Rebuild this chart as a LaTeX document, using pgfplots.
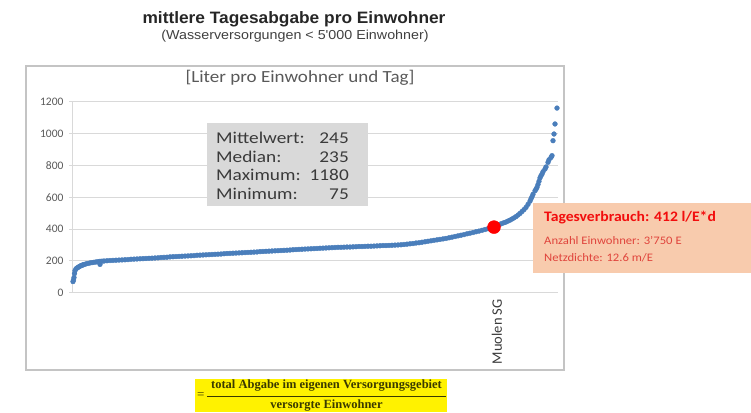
\documentclass[border=0pt]{standalone}
\usepackage{pgfplots}
\pgfplotsset{compat=1.18}
\usepackage{graphicx}
\usepackage{fontspec}
\setmainfont{Carlito}
\newfontfamily\arialfont{Liberation Sans}
\newfontfamily\timesfont{Liberation Serif}
\definecolor{ptblue}{HTML}{4A7EBB}
\definecolor{gridgray}{HTML}{D9D9D9}
\definecolor{framegray}{HTML}{C4C4C4}
\definecolor{statgray}{HTML}{D9D9D9}
\definecolor{peach}{HTML}{F8CBAD}
\definecolor{txtgray}{HTML}{595959}
\definecolor{darktxt}{HTML}{3A3A3A}
\definecolor{redA}{HTML}{F20D0D}
\definecolor{redB}{HTML}{E0443C}
\definecolor{olive}{HTML}{3A3A00}
\newcommand{\hs}[2]{\scalebox{#1}[1]{#2}}
\begin{document}
\begin{tikzpicture}[x=1pt,y=1pt]
\path[use as bounding box] (0,0) rectangle (751,412);
% frame
\draw[framegray, line width=1.2pt] (26,346) rectangle (564,42);
% titles
\node[font=\arialfont\bfseries\fontsize{16.5}{18}\selectfont, text=black!85] at (294,393) {\hs{1.05}{mittlere Tagesabgabe pro Einwohner}};
\node[font=\arialfont\fontsize{13}{14}\selectfont, text=black!75] at (295,375.5) {\hs{1.1}{(Wasserversorgungen < 5'000 Einwohner)}};
\node[font=\fontsize{17}{19}\selectfont, text=txtgray] at (300,334) {\hs{1.12}{[Liter pro Einwohner und Tag]}};
\begin{axis}[
  at={(72pt,119.3pt)}, anchor=south west,
  scale only axis, width=486pt, height=191pt,
  xmin=72, xmax=558, ymin=0, ymax=1200,
  clip=false,
  axis y line*=left, axis x line*=bottom,
  axis line style={draw=gridgray, line width=1pt},
  ytick={0,200,...,1200},
  ymajorgrids, grid style={gridgray, line width=1pt},
  tick align=outside, major tick length=3pt,
  ytick style={draw=gridgray, line width=1pt},
  xtick={494}, xticklabels={Muolen SG},
  xtick style={draw=none},
  /pgf/number format/assume math mode=true,
  /pgf/number format/1000 sep={},
  yticklabel style={font=\fontsize{11.5}{13}\selectfont, text=txtgray, xshift=-2pt},
  xticklabel style={rotate=90, anchor=east, font=\fontsize{14.5}{16}\selectfont, text=darktxt, yshift=-3pt},
]
\addplot[only marks, mark=*, mark size=2.4pt, color=ptblue, mark options={draw=ptblue, fill=ptblue}] coordinates {
(73,70) (73.5,80) (74,95) (74.5,120) (75,138) (76,150) (77,155) (78,159) (79,163) (80,167)
(81,170) (82,172) (83,175) (84,177) (86,181) (88,184) (90,187) (92,189) (94,191) (96,193)
(98,195) (100,178) (100,197) (102,198) (104,199)
(107,201) (110,202) (113,203) (116,204) (119,205) (122,206) (125,207) (128,208) (131,210) (134,211) (137,212) (140,213)
(143,214) (146,215) (149,216) (152,217) (155,218) (158,219) (161,221) (164,222) (167,223) (170,225) (173,226)
(176,227) (179,228) (182,229) (185,230) (188,231) (191,232) (194,233) (197,235) (200,236) (203,237) (206,238)
(209,239) (212,240) (215,241) (218,242) (221,243) (224,245) (227,246) (230,247) (233,248) (236,249) (239,250)
(242,251) (245,252) (248,253) (251,254) (254,255) (257,256) (260,258) (263,259) (266,260) (269,261) (272,262)
(275,263) (278,264) (281,265) (284,266) (287,267) (290,268) (293,270) (296,271) (299,272) (302,273) (305,274)
(308,275) (311,276) (314,277) (317,278) (320,279) (323,280) (326,281) (329,282) (332,283) (335,284) (338,285)
(341,285) (344,286) (347,287) (350,287) (353,288) (356,289) (359,290) (362,290) (365,291) (368,292)
(371,292) (374,293) (377,294) (380,295) (383,296) (386,296) (389,297) (392,298) (395,299) (398,300)
(401,301) (404,303) (407,305) (410,307) (413,309) (416,312) (419,314)
(422,317) (425,320) (428,323) (431,326) (434,329)
(437,332) (440,335) (443,338) (446,341) (449,345)
(452,349) (455,353) (458,357) (461,361) (464,365) (467,370)
(470,374) (473,378) (476,383) (479,387) (482,392)
(485,397) (488,402) (491,407)
(496,418) (498,424) (500,430) (502,435) (504,440) (506,444) (508,450) (510,456) (512,463) (514,470)
(516,478) (518,488) (520,498) (522,510) (524,522) (526,536) (528,555) (530,575) (531,590) (532,603)
(533,618) (535,640) (536,650) (537,662) (538,680) (539,700) (540,721) (541,735) (542,745) (543,760)
(545,777) (546,790) (548,819) (549,835) (551,850) (552,861) (553,955) (554,997) (555,1060) (557,1160)
};
\addplot[only marks, mark=*, mark size=6.5pt, color=red, mark options={draw=red, fill=red}] coordinates {(494,412)};
\end{axis}
% stats box
\fill[statgray] (207,289) rectangle (368,206);
\begin{scope}[every node/.style={font=\fontsize{16.5}{18}\selectfont, text=darktxt, inner sep=0pt}]
\node[anchor=west] at (216,274) {\hs{1.17}{Mittelwert:}};
\node[anchor=west] at (216,255) {\hs{1.17}{Median:}};
\node[anchor=west] at (216,237) {\hs{1.17}{Maximum:}};
\node[anchor=west] at (216,218) {\hs{1.17}{Minimum:}};
\node[anchor=east] at (349,274) {\hs{1.17}{245}};
\node[anchor=east] at (349,255) {\hs{1.17}{235}};
\node[anchor=east] at (349,237) {\hs{1.17}{1180}};
\node[anchor=east] at (349,218) {\hs{1.17}{75}};
\end{scope}
% info box
\fill[peach] (533,209) rectangle (751,139);
\node[anchor=west, inner sep=0pt, font=\bfseries\fontsize{14.5}{16}\selectfont, text=redA] at (544,194) {\hs{1.08}{Tagesverbrauch: 412 l/E*d}};
\node[anchor=west, inner sep=0pt, font=\fontsize{11.5}{13}\selectfont, text=redB] at (544,172) {\hs{1.1}{Anzahl Einwohner: 3'750 E}};
\node[anchor=west, inner sep=0pt, font=\fontsize{11.5}{13}\selectfont, text=redB] at (544,154) {\hs{1.1}{Netzdichte: 12.6 m/E}};
% formula
\fill[yellow] (195,33) rectangle (447,0);
\node[anchor=west, inner sep=0pt, font=\timesfont\fontsize{13}{14}\selectfont, text=olive] at (197,16) {=};
\node[inner sep=0pt, font=\timesfont\bfseries\fontsize{12.5}{14}\selectfont, text=olive] at (326.5,26) {total Abgabe im eigenen Versorgungsgebiet};
\draw[olive, line width=1pt] (207,16) -- (446,16);
\node[inner sep=0pt, font=\timesfont\bfseries\fontsize{12.5}{14}\selectfont, text=olive] at (326.5,6) {versorgte Einwohner};
\end{tikzpicture}
\end{document}
